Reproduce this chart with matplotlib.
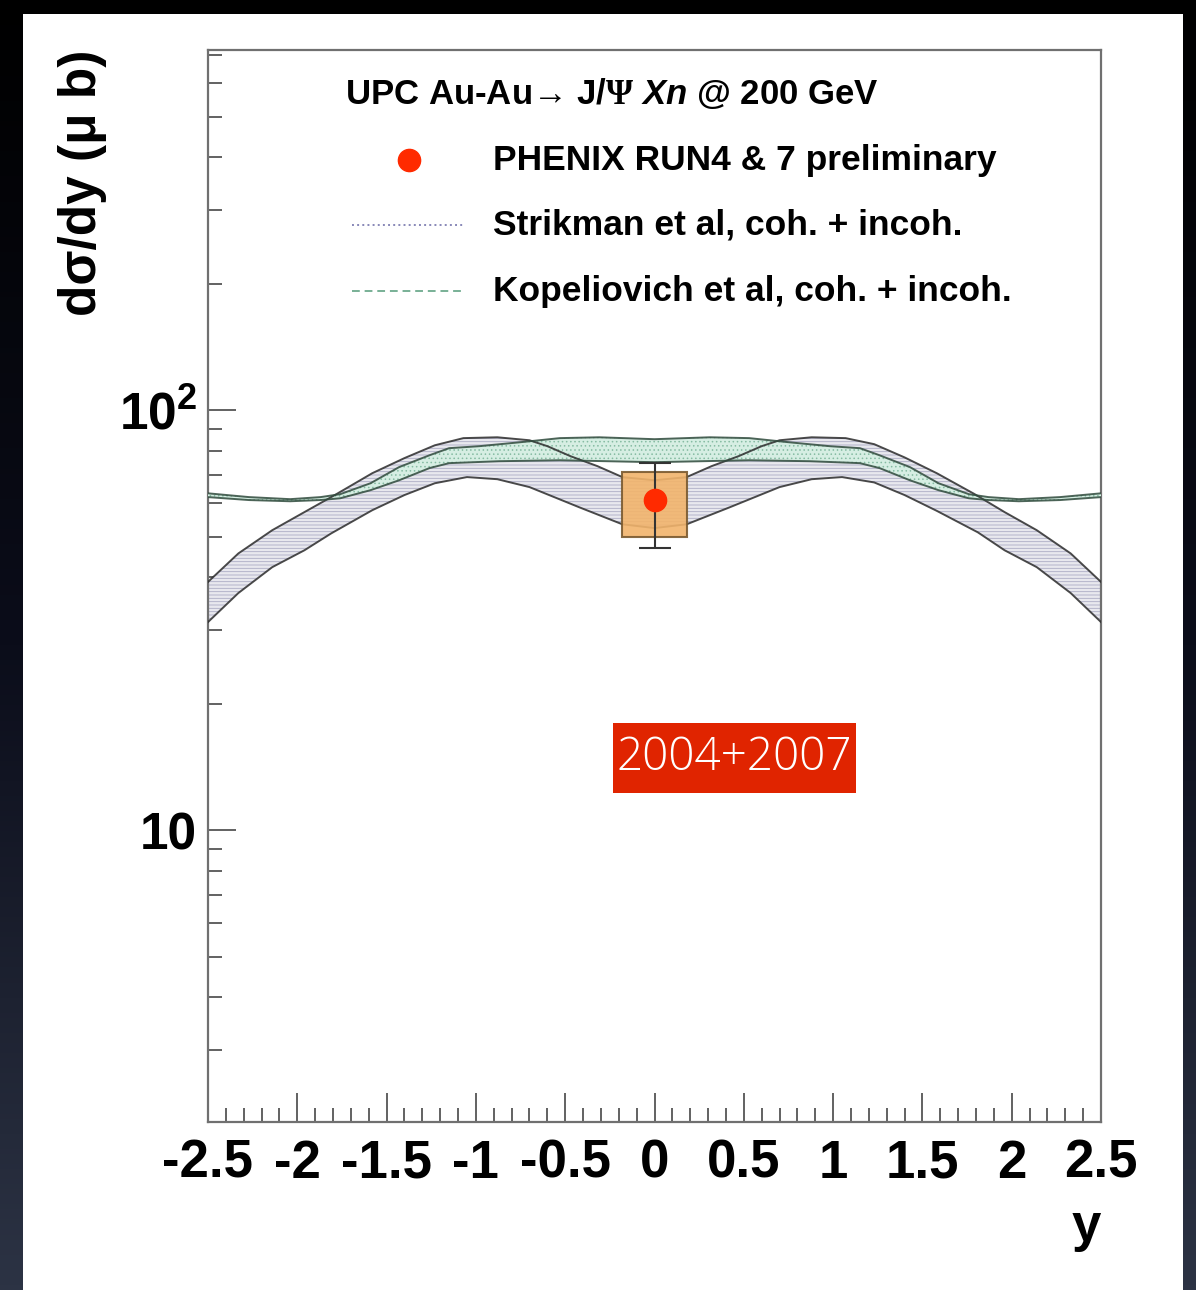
import numpy as np
import matplotlib
matplotlib.use("Agg")
import matplotlib.pyplot as plt
from matplotlib.patches import Rectangle
from matplotlib.colors import LinearSegmentedColormap
from matplotlib.ticker import FixedLocator, FixedFormatter, MultipleLocator, LogLocator, NullFormatter

plt.rcParams['font.family'] = ['Liberation Sans', 'DejaVu Sans']
plt.rcParams['font.weight'] = 'bold'
plt.rcParams['axes.labelweight'] = 'bold'
plt.rcParams['mathtext.fontset'] = 'custom'
plt.rcParams['mathtext.rm'] = 'Liberation Sans:bold'
plt.rcParams['mathtext.it'] = 'Liberation Sans:italic:bold'
plt.rcParams['mathtext.bf'] = 'Liberation Sans:bold'
plt.rcParams['mathtext.sf'] = 'Liberation Serif'
plt.rcParams['hatch.linewidth'] = 0.6

# ---------------------- data ----------------------
# Strikman et al, coh. + incoh. : band edges (rapidity, mub)
strik_hi_y = [-2.5, -2.33, -2.14, -1.96, -1.79, -1.58, -1.40, -1.23, -1.07, -0.88, -0.70,
              -0.60, -0.47, -0.32, -0.18, 0.0, 0.18, 0.32, 0.47, 0.60, 0.70, 0.88,
              1.07, 1.23, 1.40, 1.58, 1.79, 1.96, 2.14, 2.33, 2.5]
strik_hi = [39.0, 45.6, 51.8, 57.2, 62.8, 70.8, 76.9, 82.5, 85.8, 86.2, 84.8,
            82.1, 77.7, 73.6, 69.3, 68.1, 69.3, 73.6, 77.7, 82.1, 84.8, 86.2,
            85.8, 83.0, 77.2, 70.8, 63.2, 57.2, 51.8, 45.6, 39.0]
strik_lo_y = [-2.5, -2.33, -2.14, -1.96, -1.81, -1.58, -1.40, -1.23, -1.05, -0.88, -0.70,
              -0.42, -0.18, 0.0, 0.18, 0.42, 0.70, 0.88, 1.05, 1.23, 1.40, 1.58,
              1.81, 1.96, 2.14, 2.33, 2.5]
strik_lo = [31.3, 36.7, 42.3, 46.4, 50.9, 57.8, 62.8, 67.0, 69.3, 68.5, 65.6,
            58.7, 53.5, 52.4, 53.5, 58.7, 65.6, 68.5, 69.3, 67.3, 62.8, 57.6,
            51.2, 46.4, 42.3, 36.7, 31.3]

# Kopeliovich et al, coh. + incoh. : band edges (rapidity, mub)
kop_hi_y = [-2.5, -2.27, -2.04, -1.87, -1.76, -1.59, -1.43, -1.26, -1.15, -0.98, -0.75,
            -0.53, -0.31, 0.0, 0.31, 0.53, 0.75, 0.98, 1.15, 1.26, 1.43, 1.59,
            1.76, 1.87, 2.04, 2.27, 2.5]
kop_hi = [63.4, 62.1, 61.4, 62.1, 63.1, 67.0, 73.2, 78.1, 81.2, 82.1, 83.9,
          85.8, 86.2, 85.3, 86.2, 85.8, 83.9, 82.1, 81.2, 78.1, 73.2, 67.0,
          63.1, 62.1, 61.4, 62.1, 63.4]
kop_lo_y = [-2.5, -2.27, -2.04, -1.87, -1.76, -1.59, -1.43, -1.26, -1.15, -0.87, -0.53,
            0.0, 0.53, 0.87, 1.15, 1.26, 1.43, 1.59, 1.76, 1.87, 2.04, 2.27, 2.5]
kop_lo = [62.1, 61.1, 60.7, 61.1, 61.7, 64.5, 68.1, 72.8, 74.8, 75.6, 76.0,
          75.2, 76.0, 75.6, 74.8, 72.8, 68.1, 64.5, 61.7, 61.1, 60.7, 61.1, 62.1]

# PHENIX RUN4 & 7 preliminary
phenix_y = [0.0]
phenix_val = [61.0]
phenix_stat = [14.0]
phenix_sys_lo = [49.9]
phenix_sys_hi = [71.3]
sys_halfwidth = 0.184

xticks = [-2.5, -2, -1.5, -1, -0.5, 0, 0.5, 1, 1.5, 2, 2.5]
xtick_labels = ["-2.5", "-2", "-1.5", "-1", "-0.5", "0", "0.5", "1", "1.5", "2", "2.5"]
yticks = [10, 100]
ytick_labels = ["10", "$10^{2}$"]

RED = '#ff2a00'


def band(ax, xu, yu, xl, yl, face, hatch_col, hatch, edge, z):
    # closed polygon: upper edge left->right, lower edge right->left
    xs = list(xu) + list(xl)[::-1]
    ys = list(yu) + list(yl)[::-1]
    ax.fill(xs, ys, facecolor=face, edgecolor=hatch_col, hatch=hatch,
            linewidth=0, zorder=z)
    return (xu, yu, edge), (xl, yl, edge)


fig = plt.figure(figsize=(11.96, 12.90), dpi=100)
fig.patch.set_facecolor('black')

# slide background: dark gradient with a white sheet on it
bg = fig.add_axes([0, 0, 1, 1], zorder=-5)
bg.axis('off')
cmap = LinearSegmentedColormap.from_list('slide', ['#000000', '#0b0d1a', '#2c3344'])
bg.imshow(np.linspace(0, 1, 256)[:, None], cmap=cmap, extent=[0, 1, 0, 1],
          aspect='auto', origin='upper')
bg.add_patch(Rectangle((23 / 1196, 0), (1183 - 23) / 1196, (1290 - 14) / 1290,
                       facecolor='white', edgecolor='none'))
bg.set_xlim(0, 1)
bg.set_ylim(0, 1)

ax = fig.add_axes([0.1739, 0.1302, 0.7467, 0.8310])
ax.set_facecolor('white')
ax.set_yscale('log')
ax.set_xlim(-2.5, 2.5)
ax.set_ylim(2.02, 720)

# model bands
edges = []
edges += band(ax, strik_hi_y, strik_hi, strik_lo_y, strik_lo,
              '#e8e8ee', '#acacc4', '-----', '#2b2b2b', 2)
edges += band(ax, kop_hi_y, kop_hi, kop_lo_y, kop_lo,
              '#d6eee3', '#86bca3', '....', '#2f4a3c', 3)
for xs, ys, col in edges:
    ax.plot(xs, ys, color=col, lw=1.4, alpha=0.85, zorder=4)

# data point with systematic box
for yv, lo, hi in zip(phenix_y, phenix_sys_lo, phenix_sys_hi):
    ax.add_patch(Rectangle((yv - sys_halfwidth, lo), 2 * sys_halfwidth, hi - lo,
                           facecolor='#f2b46c', edgecolor='#7a5a30', lw=1.5,
                           alpha=0.9, zorder=5))
ax.errorbar(phenix_y, phenix_val, yerr=phenix_stat, fmt='o', color=RED,
            ms=16, ecolor='#333333', elinewidth=1.5, capsize=11.5,
            capthick=1.5, zorder=6)

# legend
ax.text(0.1534, 0.9599, r"UPC Au-Au→ J/$\mathsf{\Psi}$ $Xn$ @ 200 GeV",
        transform=ax.transAxes, fontsize=25, ha='left', va='center')
ax.plot([0.2251], [0.8974], 'o', color=RED, ms=16, transform=ax.transAxes,
        clip_on=False, zorder=6)
ax.plot([0.1613, 0.2856], [0.8368, 0.8368], color='#8888b8', lw=1.4, ls=':',
        transform=ax.transAxes)
ax.plot([0.1613, 0.2856], [0.7752, 0.7752], color='#78b096', lw=1.4, ls=(0, (4, 2.5)),
        transform=ax.transAxes)
legend_text = ["PHENIX RUN4 & 7 preliminary",
               "Strikman et al, coh. + incoh.",
               "Kopeliovich et al, coh. + incoh."]
for txt, yy in zip(legend_text, [0.8974, 0.8368, 0.7752]):
    ax.text(0.3191, yy, txt, transform=ax.transAxes, fontsize=25.5,
            ha='left', va='center')

# year tag
ax.add_patch(Rectangle((0.4535, 0.3069), 0.2721, 0.0653, transform=ax.transAxes,
                       facecolor='#e02400', edgecolor='none', zorder=7))
ax.text(0.5896, 0.3396, "2004+2007", transform=ax.transAxes, color='white',
        fontsize=33, fontweight=300, family=['Open Sans', 'DejaVu Sans'],
        ha='center', va='center', zorder=8)

# axes, ROOT style
for sp in ax.spines.values():
    sp.set_color('#707070')
    sp.set_linewidth(1.6)
ax.xaxis.set_major_locator(FixedLocator(xticks))
ax.xaxis.set_major_formatter(FixedFormatter(xtick_labels))
ax.xaxis.set_minor_locator(MultipleLocator(0.1))
ax.yaxis.set_major_locator(FixedLocator(yticks))
ax.yaxis.set_major_formatter(FixedFormatter(ytick_labels))
ax.yaxis.set_minor_locator(LogLocator(base=10, subs=np.arange(2, 10)))
ax.yaxis.set_minor_formatter(NullFormatter())
ax.tick_params(axis='both', which='both', direction='in', color='#555555',
               width=1.3, top=False, right=False)
ax.tick_params(axis='x', which='major', length=21, labelsize=38, pad=12)
ax.tick_params(axis='x', which='minor', length=10)
ax.tick_params(axis='y', which='major', length=20, labelsize=37, pad=8)
ax.tick_params(axis='y', which='minor', length=10)

ax.set_xlabel("y", fontsize=38, loc='right')
ax.xaxis.set_label_coords(1.0, -0.075)
ax.set_ylabel("dσ/dy (μ b)", fontsize=37, loc='top')
ax.yaxis.set_label_coords(-0.113, 1.0)

fig.savefig("out.png", dpi=100, facecolor=fig.get_facecolor())
